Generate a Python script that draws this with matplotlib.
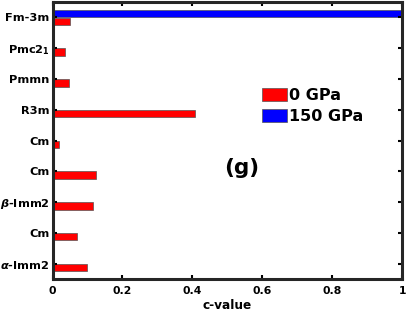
import matplotlib
matplotlib.use("Agg")
import matplotlib.pyplot as plt
import numpy as np

plt.rcParams['font.family'] = ['DejaVu Sans']
plt.rcParams['mathtext.fontset'] = 'custom'
plt.rcParams['mathtext.it'] = 'DejaVu Sans:italic:bold'
plt.rcParams['mathtext.rm'] = 'DejaVu Sans:bold'

categories = [r'$\alpha$-Imm2', 'Cm', r'$\beta$-Imm2', 'Cm', 'Cm', 'R3m', 'Pmmn', r'Pmc2$_1$', 'Fm-3m']
gpa0 = [0.098, 0.070, 0.117, 0.123, 0.020, 0.407, 0.047, 0.036, 0.049]
gpa150 = [0, 0, 0, 0, 0, 0, 0, 0, 1.0]
series_labels = ['0 GPa', '150 GPa']

fig = plt.figure(figsize=(4.07, 3.14), dpi=100)
ax = fig.add_axes([0.129, 0.1115, 0.859, 0.882])

y = np.arange(1, len(categories) + 1)
h = 0.24
off = 0.125
ax.barh(y - off, gpa0, height=h, color='#ff0000', edgecolor='#555555', linewidth=0.5, label=series_labels[0])
ax.barh(y + off, gpa150, height=h, color='#0000ff', edgecolor='#555555', linewidth=0.5, label=series_labels[1])

ax.set_xlim(0, 1)
ax.set_ylim(0.5, 9.5)
ax.set_yticks(y)
ax.set_yticklabels(categories, fontsize=8.2, fontweight='bold')
ax.set_xticks([0, 0.2, 0.4, 0.6, 0.8, 1.0])
ax.set_xticklabels(['0', '0.2', '0.4', '0.6', '0.8', '1'], fontsize=7.8, fontweight='bold')
ax.tick_params(direction='in', top=True, right=True, length=3, width=1.5)
ax.tick_params(axis='x', pad=5)
ax.tick_params(axis='y', pad=2)
for s in ax.spines.values():
    s.set_linewidth(2.2)
    s.set_color('#262626')
ax.set_xlabel('c-value', fontsize=8.7, fontweight='bold', labelpad=2)

leg = ax.legend(loc='upper left', bbox_to_anchor=(0.60, 0.69), frameon=False,
                prop={'weight': 'bold', 'size': 11.5}, handlelength=1.55, handleheight=0.92,
                handletextpad=0.15, labelspacing=0.35, borderaxespad=0, borderpad=0)

ax.text(0.54, 0.40, '(g)', transform=ax.transAxes, fontsize=15.5, fontweight='bold',
        ha='center', va='center')

fig.savefig('out.png', dpi=100)
